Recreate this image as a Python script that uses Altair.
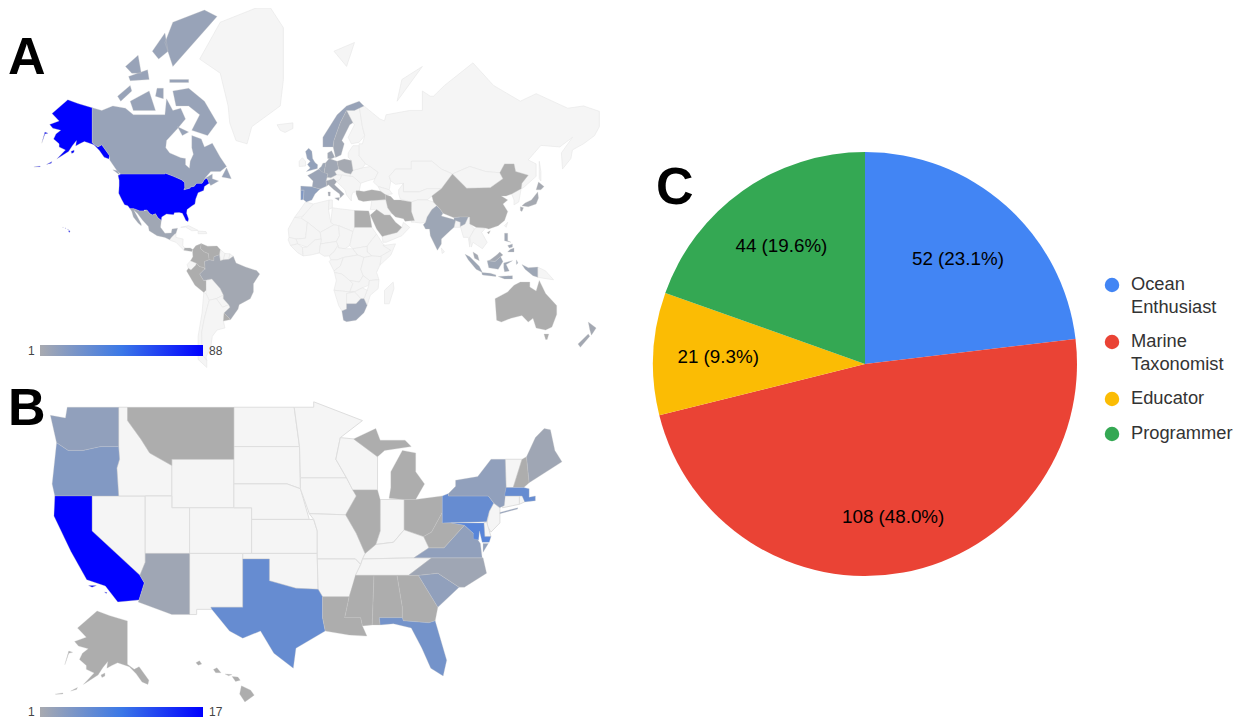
import math
import altair as alt

# ---------- pie ----------
ROLES = ["Ocean Enthusiast", "Marine Taxonomist", "Educator", "Programmer"]
ROLE_COUNTS = [52, 108, 21, 44]
ROLE_LABELS = ["52 (23.1%)", "108 (48.0%)", "21 (9.3%)", "44 (19.6%)"]
ROLE_LINES = ["Ocean\nEnthusiast", "Marine\nTaxonomist", "Educator", "Programmer"]
ROLE_COLORS = ["#4285f4", "#ea4335", "#fbbc04", "#34a853"]

# ---------- world (lon lat rings, ';' separates rings) ----------
WORLD_VALUES = {
    "USA": 88, "Alaska": 88, "Hawaii": 88, "Canada": 9, "Mexico": 6, "Panama": 2, "Colombia": 1, "Venezuela": 1,
    "Peru": 1, "Brazil": 5, "Uruguay": 1, "UK": 11, "Spain": 12, "Portugal": 18, "France": 8, "Benelux": 7,
    "Germany": 6, "Poland": 4, "Denmark": 6, "Norway": 9, "Sweden": 6, "Italy": 5, "Turkey": 1, "Iran": 1,
    "Saudi": 1, "Egypt": 1, "India": 7, "China": 1, "Japan": 4, "Philippines": 6, "Indonesia": 7, "Malaysia": 5,
    "SouthAfrica": 8, "Australia": 1, "NewZealand": 5,
}
WORLD_SHAPES = {
    "USA": "-124.7 48.4,-123 49,-95 49,-95 49.4,-89.5 48,-84.5 46.5,-82.5 45.3,-82.4 43,-83 42,-79 42.8,-79 43.3,-76.5 43.6,-75 45,-71.5 45,-70 46.7,-68.3 47.3,-67 45,-70 43.5,-70.5 41.7,-74 40.6,-75.5 37.5,-76 35,-78 33.9,-81 32,-81.3 30,-80 26.8,-80.4 25.2,-81.8 26,-82.8 28,-84 30,-86 30.4,-89 30.3,-89.5 29.2,-91 29.3,-94 29.6,-97 28,-97.3 26,-99.5 27.5,-101 29.7,-103 29,-104.5 29.7,-106.5 31.8,-108.2 31.8,-108.2 31.3,-111 31.3,-114.8 32.5,-117.1 32.5,-118.5 34,-120.6 34.6,-122.4 37.2,-124.3 40.3,-124 44,-124 46.3",
    "Alaska": "-141 69.6,-141 60.3,-137.5 59,-135 59.7,-130 56,-130.5 54.8,-133.5 55.5,-136.5 57.8,-140 59.7,-146 60.7,-149 60,-151.5 59.3,-151 61,-153.5 59.5,-156 57.5,-163.5 54.8,-158 58,-162 59,-162 60,-165.5 61.5,-164 63,-161 64,-166 64.6,-168 65.6,-162 66.5,-166.5 68.3,-156.5 71.3,-150 70.5;-154.5 57.5,-152.5 58,-152.5 57.2,-154 56.8;-170 52.8,-166.5 53.9,-167 53.3;-178 51.8,-174 52.2,-174 51.9;-173 60.2,-171 63.5,-169 63.2,-171 63",
    "Hawaii": "-155.9 20.2,-155 19.8,-155.6 18.95,-156 19.5;-156.7 20.9,-156 20.8,-156.4 20.6;-158.2 21.5,-157.7 21.4,-158 21.7;-159.8 22,-159.3 22,-159.5 22.2",
    "Canada": "-141 69.6,-135 69,-128 70,-120 69.5,-115 68,-108 68,-95 68,-94 71.5,-90 69,-85 69.5,-82 67,-87 64.5,-94 61,-94.5 58.7,-92 57,-85 55.3,-82 55,-82 52.7,-79.5 51.3,-79 54,-77 56.5,-78 58.7,-78 62.5,-72 61.5,-70 59,-65 60.2,-60 55.5,-56 52,-60 50,-66 50,-70 47,-65 49,-65 47,-61 46,-66 44,-67 45,-68.3 47.3,-70 46.7,-71.5 45,-75 45,-76.5 43.6,-79 43.3,-79 42.8,-83 42,-82.4 43,-82.5 45.3,-84.5 46.5,-89.5 48,-95 49.4,-95 49,-123 49,-125 50,-130 54.5,-130 56,-135 59.7,-137.5 59,-141 60.3;-62 66,-68 62.5,-78 64,-73 68,-80 70,-88 70,-90 73,-80 73.5,-70 71;-117 71,-105 73,-101 69,-115 69;-125 72,-117 74,-116 73,-123 71;-90 77,-62 82.5,-70 83,-90 82,-95 80;-92 75,-80 75,-80 74.5,-92 74.5;-118 75.5,-106 76.5,-105 75,-117 74.8;-59 47.7,-53 47,-56 51.5;-128 50.7,-123.5 48.5,-125 50.3;-87 65,-80 63.5,-84 62.5;-100 73.5,-96 73.5,-96 71.5,-101 72;-103 79,-95 81,-93 79,-99 78;-120 77,-112 78.5,-110 76,-116 76",
    "Greenland": "-73 78,-60 82,-30 83.5,-20 81.5,-20 75,-22 70,-40 65,-43 60,-50 61,-54 66,-55 70,-60 76",
    "Iceland": "-24 65.5,-14 66,-14 64.5,-19 63.4,-22 64",
    "Mexico": "-117.1 32.5,-114.8 32.5,-111 31.3,-108.2 31.3,-106.5 31.8,-104.5 29.7,-103 29,-101 29.7,-99.5 27.5,-97.3 26,-97.8 22,-95 18.5,-91 18.7,-90.5 21,-87 21.5,-88 18.5,-89 17.9,-91 16,-92 14.5,-95 16,-100 17,-105 20,-105.5 22.5,-109 26,-112.5 30,-114.7 31.7,-113 29,-110 24,-110 23,-112 24.5,-115 28,-116 31",
    "CentralAm": "-92 14.5,-91 16,-89 17.9,-88 18.5,-88 16,-83.5 15,-83.7 11,-82.5 9.5,-83 8,-86 11,-88 13,-91 14",
    "Panama": "-83 8,-82.5 9.5,-79 9.5,-77.3 8.5,-78 7.3,-80 7.5",
    "Cuba": "-85 22,-80 23,-74 20.2,-78 20,-82 22.2", "Hispaniola": "-74 19.8,-69 19.5,-68.5 18.3,-74 18.2",
    "Colombia": "-77.3 8.5,-75.5 10.8,-72 12.2,-72.5 9,-70 7,-67.5 6,-67 2,-70 1,-69.5 -4,-70 -3,-73 -2.3,-75 -0.2,-78.8 1.4,-77.3 4,-77.5 7",
    "Venezuela": "-72 12.2,-68 10.6,-62 10.7,-60 8.5,-60.5 5.2,-64 4,-64 1.5,-67 2,-67.5 6,-70 7,-72.5 9",
    "Guyana": "-60 8.5,-57 6,-58 2,-60 1.5,-60.5 5.2", "Suriname": "-57 6,-54 5.8,-54.5 2.3,-58 2", "FrGuiana": "-54 5.8,-51.7 4.2,-54.5 2.3",
    "Ecuador": "-78.8 1.4,-75 -0.2,-75.5 -1.5,-78.5 -4.5,-80.2 -3.4,-81 -1",
    "Peru": "-80.2 -3.4,-78.5 -4.5,-75.5 -1.5,-75 -0.2,-73 -2.3,-70 -3,-70 -4,-73 -7,-70.5 -11,-69 -11,-69 -17,-70.4 -18.3,-76 -14,-81.3 -5",
    "Brazil": "-70 -4,-69.5 -4,-70 1,-67 2,-64 1.5,-64 4,-60.5 5.2,-60 1.5,-58 2,-54.5 2.3,-51.7 4.2,-50 0,-44 -2.5,-37 -4.8,-35 -7,-39 -13,-39 -18,-41 -22,-48 -25.5,-48.7 -28,-53.4 -33.7,-57.6 -30.2,-53.8 -27,-54.6 -25.5,-58 -22,-58 -19.9,-60 -16,-65.3 -10,-70.5 -11,-73 -7",
    "Bolivia": "-69 -11,-65.3 -10,-60 -16,-58 -19.9,-62.5 -22,-67 -23,-69 -19,-69 -17",
    "Paraguay": "-58 -19.9,-58 -22,-54.6 -25.5,-58.5 -27,-62.5 -22",
    "Uruguay": "-57.6 -30.2,-53.4 -33.7,-58 -34.5",
    "Chile": "-70.4 -18.3,-69 -19,-67 -23,-70 -33,-71.7 -40,-71.5 -50,-68.5 -52.3,-68.5 -55,-74 -52,-74 -42,-71.5 -30",
    "Argentina": "-67 -23,-62.5 -22,-58.5 -27,-54.6 -25.5,-53.8 -27,-57.6 -30.2,-58 -34.5,-57 -38,-62 -39,-65 -42,-66 -47,-69 -51,-68.5 -52.3,-71.5 -50,-71.7 -40,-70 -33",
    "UK": "-5.5 50,1.5 51.2,1.7 52.7,0 53.5,-1.5 55,-2 57.6,-4 58.6,-6 57.5,-5 55,-3 54,-4.8 52.8,-3 51.4",
    "Ireland": "-10 52,-6 52.2,-6 54,-8 55.3,-10 54",
    "Spain": "-9 43.7,-1.8 43.4,3.2 42.4,0 40,-2 37,-5.5 36,-7.4 37.2,-7 41.8,-9 41.8",
    "Portugal": "-9 41.8,-7 41.8,-7.4 37.2,-9 37",
    "France": "-1.8 43.4,3.2 42.4,7.5 43.7,7 46,8.2 49,2.5 51,-1.5 49.5,-4.7 48.4,-1.2 46",
    "Benelux": "2.5 51.2,4 52,5 53.3,7 53.4,6 50.5,6 49.5,4 50",
    "Germany": "7 53.6,9 55,14 54,15 51,12.5 50,13.7 48.7,10 47.4,7.6 47.6,8.2 49,6 49.5,6 50.5",
    "Poland": "14 54,18.5 54.8,23 54.3,24 50.5,22.7 49,19 49.5,15 51",
    "Denmark": "8 55,8 57,10.5 57.7,12.5 55.5,10 54.8",
    "Norway": "5 59,5 62,14 68,20 70,28 71,31 70,25 69,20 69,16 66,12 61,11.5 59",
    "Sweden": "11.5 59,12 61,16 66,20 69,24 66,22 65.5,17 61,18.5 60,16.5 56.3,13 55.4",
    "Finland": "20 69,25 69,28 70,30 65,31.5 62.5,28 60.5,23 60,21 62,25 65.5,24 66",
    "Italy": "7 46,12 47,13.7 45.7,12.3 44.3,18.5 40,16 38,15.6 40,12 42,8.5 44.3,7.5 43.7;8.2 41,9.7 41,9.6 39,8.5 39;12.5 38,15.6 38.2,15 36.7",
    "Alps": "7 46,7.6 47.6,10 47.4,13.7 48.7,17 48.6,16 46.8,13.7 45.7,12 47",
    "Czechia": "12.5 50,15 51,19 49.5,22.7 49,22 48,17 48.6,13.7 48.7",
    "Balkans": "16 46.8,17 48.6,22 48,24 48,29 45,28 41.5,26 41,24 40.8,23 39,23 36.5,20 39.5,19 42,13.7 45.7",
    "Ukraine": "24 50.5,22.7 49,22 48,24 48,29 45,33 46,38 47,40 49.7,35 52,30 51.5",
    "Belarus": "23 54.3,24 50.5,30 51.5,32 53,28 56,28 59.4,24 59.4,21 57,21 55.5",
    "Russia": "28 60,30 60,31.5 62.5,30 65,28 70,31 70,41 67,44 66.5,45 68,60 69,68 69,68 73,73 72,75 72,82 74,100 77.5,113 74,130 71,140 72.5,160 69.5,170 70,180 68.8,180 65,177 62.5,170 60,163 58,162 55,156.7 51,156 57,163 62,155 59,143 59.5,135 54.5,140 53,140 48,132 43,130.5 42.5,131 45,135 48.5,127 50,126 53,120 53,117 49.5,108 50,98 52,87 49,80 51,74 54,61 54,61 51,51 51,47 48,48 46,47 42,40 43.5,37 45.5,38 47,40 49.7,35 52,32 53,28 56;142 54,143 50,143 46,142 47,142 51;52 71,68 77,55 75",
    "Svalbard": "12 79,25 80,20 77",
    "Caucasus": "40 43.5,47 42,49 40,44.5 39.7,41.5 41.3",
    "Kazakhstan": "47 48,51 51,61 51,61 54,74 54,80 51,87 49,80 42.5,71 42.5,66 41,56 41,56 45,51 44.5,48 46",
    "Mongolia": "87 49,98 52,108 50,117 49.5,119 47,111 43,96 42.7",
    "China": "74 39,80 42.5,87 49,96 42.7,111 43,119 47,117 49.5,120 53,126 53,127 50,135 48.5,131 45,130.5 42.5,124.5 40,121 39,118 39,122 37,119 35,122 31,120 26,116 23,110 21,108 21.6,102 22,98 24,98 28,92 28,88 27.5,81 30,79 32.5,75 36;109 19,111 20,110 18",
    "CentralAsia": "53 42,56 45,56 41,66 41,71 42.5,80 42.5,74 39,71 37,65 37,61 36,54 37.5,53 40",
    "Iran": "44.5 39.7,48 38.7,50 37,54 37,61 36,61 31,63 26,57 25.5,56 27,51 28,48.5 30,46 33,44.8 37.2",
    "AfPak": "61 36,65 37,71 37,75 36,77 34,74 32,71 28,70 25,67 24.5,63 25,61 25,61 31",
    "Turkey": "26 40,26 41.5,28 41.5,31 41.2,36 42,41.5 41.3,44.5 39.7,44.8 37.2,36 36.7,30.6 36.3,27.5 37",
    "Iraq": "36 36.7,44.8 37.2,46 33,48.5 30,47.5 29,44 29,39 32,35 32",
    "Saudi": "35 29,39 32,44 29,47.5 29,48.5 28,51 25,55 22,52 19,44 17,42.5 16.5,39 21",
    "Oman": "42.5 16.5,44 17,52 19,55 22,56 25,60 22,55 17,45 13,43 13",
    "Egypt": "25 31.5,34 31.3,35 28,36 22,25 22",
    "Morocco": "-6 36,-1 35,-1.5 32,-8.7 28,-13 27.7,-9.8 31.5",
    "Mauritania": "-13 27.7,-8.7 27.3,-4.8 25,-6 15.5,-12 15,-16.5 16,-17 21",
    "Algeria": "-1 35,9 37,8.5 32,10 25,12 23.5,3.3 19,-4.8 25,-8.7 27.3",
    "Tunisia": "9 37,11 37,11 33,8.5 32",
    "Libya": "11 33,15 32.5,20 32,25 31.5,25 20,24 19.5,15 23,12 23.5,10 25",
    "Mali": "-4.8 25,3.3 19,4 15,0 14.5,-5 10,-11 12,-12 15,-6 15.5",
    "Niger": "3.3 19,12 23.5,15 23,15.5 17,13.5 13.5,3.5 12,4 15",
    "Chad": "15 23,24 19.5,22 11,19 9,15 9.5,13.5 13.5,15.5 17",
    "Sudan": "25 22,36 22,39 18,36 14.5,33 10.5,24 9,22 11,24 19.5",
    "Senegal": "-16.5 16,-12 15,-11 12,-15.5 11,-17 14.5",
    "Guinea": "-15.5 11,-11 12,-8 10,-7.5 4.5,-11 6.5",
    "Ghana": "-8 10,-5 10,0 14.5,4 15,3.5 12,2.7 6.3,-3 5,-7.5 4.5",
    "Nigeria": "2.7 6.3,3.5 12,13.5 13.5,14.5 11,12 7,9 4.5,6 4.3",
    "Cameroon": "9 4.5,12 7,14.5 11,15 9.5,19 9,24 9,27 5,18 3.5,14 2,10 2",
    "Ethiopia": "36 14.5,39 18,43 12,48 8,42 4,36 4.5,33 7,33 10.5",
    "Somalia": "43 11,51 12,48 5,41 -1.5,41 4,48 8",
    "SouthSudan": "24 9,33 10.5,33 7,36 4.5,31 3.5,27 5",
    "Gabon": "9 1,10 2,14 2,18 3.5,16 -2,12 -5",
    "DRC": "18 3.5,27 5,31 3.5,29 -4,30.5 -8,28 -12,22 -11,17 -7,12.3 -6,12 -5,16 -2",
    "Kenya": "31 3.5,36 4.5,42 4,41 -1.5,39 -6,40.5 -10.5,34.5 -11,30.5 -8,29 -4",
    "Angola": "12.3 -6,17 -7,22 -11,24 -13,22 -18,12 -17,13.5 -11",
    "Zambia": "22 -11,28 -12,30.5 -8,34.5 -11,34 -14,30 -15.5,25 -18,22 -18,24 -13",
    "Mozambique": "34.5 -11,40.5 -10.5,40 -16,35 -20,33 -26,31 -22,33 -17,34 -14",
    "Zimbabwe": "25 -18,30 -15.5,33 -17,31 -22,29 -22",
    "Namibia": "12 -17,22 -18,25 -18,20 -19,20 -28,17 -29,15 -26",
    "Botswana": "20 -19,25 -18,29 -22,26 -25,20 -25",
    "SouthAfrica": "17 -29,20 -28,20 -25,26 -25,29 -22,31 -22,33 -26,31 -30,26 -34,20 -34.8,18 -34",
    "Madagascar": "49.5 -12,50 -16,47 -25,44 -25,44 -17",
    "India": "68.5 23.5,70 25,71 28,74 32,77 34,79 32.5,81 30,80 28.5,88 26.5,88 27.5,92 28,97 28,95 24,92 22.5,92 25,89 26,88 22,85 19.5,80 15,80 12,77.5 8,73 17,72.5 21,70 21",
    "Bangladesh": "88 22,89 26,92 25,92 22",
    "Myanmar": "92 22.5,95 24,97 28,98 28,98 24,101 21,98 16,98 10,97 16,94 16",
    "Indochina": "101 21,102 22,108 21.6,105.5 19,109 13,106 9,103 11,100 13,99 10,98 16",
    "Malaysia": "100 7,103 5,104 1.5,101 3;109.5 1.5,111 2,115 5,117 7,119 5,117.5 4,114 1",
    "SriLanka": "80 9.5,82 7,80.5 6",
    "Korea": "124.5 40,130.5 42.5,129 36,126 34.5,126 37",
    "Japan": "131 34,135 33.5,140 35,141.5 38,141 41,140 40,137 37,133 35.5;140 42,141.5 45.5,145 43.5,143 42;130 33.5,132 33,131 31,130 31.5",
    "Taiwan": "120 23,122 25,121 22",
    "Philippines": "120 18.5,122 18.5,122 14,124 13,120 14;122 7,126 7,126 9.5,123.5 8.5;122 11,125 12,125 10,123 9.5",
    "Indonesia": "95 5.5,98 4,104 -2,106 -6,102 -4,97 2;105.5 -6,111 -6.5,114.5 -7.5,114.5 -8.5,106 -7.5;109 1.5,114 1,117.5 4,119 1,116 -4,110 -3;119.5 0,125 1.5,121 -1,123 -5,120 -5.5,119.5 -3;116 -8.5,125 -8,125 -10,120 -10;131 -1,135 -3,141 -2.6,141 -9,138 -8,133 -4;127.5 2,128.5 0,127.5 -1",
    "PNG": "141 -2.6,146 -5,151 -10.5,147 -10,141 -9",
    "Australia": "114 -22,122 -18,126 -14,130 -12,136 -12,136 -15,140 -17.5,142 -11,146 -19,153 -26,153 -31,150 -37.5,146 -39,140 -38,138 -33,135 -35,131 -31.5,124 -33,118 -35,115 -34;145 -41,148 -41,147 -43.5,146 -43.5",
    "NewZealand": "173 -35,178 -38,175 -41.5,174 -39;173 -41,174 -42,168 -47,166.5 -45.5",
}

# ---------- US states ----------
US_VALUES = {
    "WA": 3, "OR": 4, "CA": 17, "MT": 1, "AZ": 2, "TX": 6, "LA": 1, "IL": 1, "MI": 1, "OH": 1, "MS": 1, "AL": 1,
    "GA": 1, "FL": 5, "SC": 3, "NC": 2, "VA": 3, "WV": 1, "PA": 6, "NY": 3, "NH": 1, "ME": 2, "MA": 6, "MD": 7,
    "AK": 1, "HI": 1,
}
US_SHAPES = {
    "WA": "-124.7 48.4,-123 48.2,-122.8 49,-117 49,-117 46,-119 46,-121 45.7,-122.7 45.7,-124 46.3",
    "OR": "-124 46.3,-122.7 45.7,-121 45.7,-119 46,-117 46,-116.9 45,-117.2 44.3,-117 42,-124.2 42,-124.5 43",
    "CA": "-124.2 42,-120 42,-120 39,-114.6 35,-114.1 34.3,-114.7 32.7,-117.1 32.5,-118.5 34,-120.6 34.6,-122.4 37.2,-124.3 40.3;-120.4 34.05,-119.5 34.05,-120 33.9;-118.6 33.45,-118.3 33.4,-118.4 33.3",
    "NV": "-120 42,-114 42,-114 36.2,-114.6 35,-120 39",
    "ID": "-117 49,-116 49,-116 48,-114.5 46.6,-113.5 45.5,-111 44.5,-111 42,-117 42,-117.2 44.3,-116.9 45,-117 46",
    "MT": "-116 49,-104 49,-104 45,-111 45,-111 44.5,-113.5 45.5,-114.5 46.6,-116 48",
    "WY": "-111 45,-104 45,-104 41,-111 41",
    "UT": "-114 42,-111 42,-111 41,-109 41,-109 37,-114 37",
    "CO": "-109 41,-102 41,-102 37,-109 37",
    "AZ": "-114 37,-109 37,-109 31.3,-111 31.3,-114.8 32.5,-114.7 32.7,-114.1 34.3,-114.6 35,-114 36.2",
    "NM": "-109 37,-103 37,-103 32,-106.6 32,-106.5 31.8,-108.2 31.8,-108.2 31.3,-109 31.3",
    "ND": "-104 49,-97.2 49,-96.6 46,-104 46",
    "SD": "-104 46,-96.6 46,-96.5 42.6,-98 43,-104 43",
    "NE": "-104 43,-98 43,-96.5 42.6,-95.5 40,-102 40,-102 41,-104 41",
    "KS": "-102 40,-95 40,-94.6 39,-94.6 37,-102 37",
    "OK": "-103 37,-94.6 37,-94.5 33.7,-97 33.8,-100 34.5,-100 36.5,-103 36.5",
    "TX": "-103 36.5,-100 36.5,-100 34.5,-97 33.8,-94.5 33.7,-94 33,-94 31,-93.7 29.7,-97 28,-97.3 26,-99.5 27.5,-101 29.7,-103 29,-104.5 29.7,-106.5 31.8,-106.6 32,-103 32",
    "MN": "-97.2 49,-95 49,-95 49.4,-89.5 48,-92 46.7,-92.5 45,-91.3 43.5,-96.5 43.5,-96.6 46",
    "IA": "-96.5 43.5,-91.3 43.5,-90.2 42,-91.4 40.4,-95.5 40.5,-96.5 42.6",
    "MO": "-95.5 40.5,-91.4 40.4,-90.2 38.8,-89.2 37,-89.7 36,-90.3 36.5,-94.6 36.5,-94.6 39,-95 40",
    "AR": "-94.6 36.5,-90.3 36.5,-89.7 36,-91 33,-94 33,-94.5 33.7",
    "LA": "-94 33,-91 33,-91.5 31,-89.7 31,-89.5 30.2,-89 29.2,-91 29.3,-93.7 29.7,-94 31",
    "WI": "-92 46.7,-90.5 46.6,-87.8 45.2,-87.8 42.5,-90.6 42.5,-91.3 43.5,-92.5 45",
    "IL": "-90.6 42.5,-87.8 42.5,-87.5 41.7,-87.5 39,-88 37.8,-89.2 37,-90.2 38.8,-91.4 40.4,-90.2 42",
    "MI": "-86.5 41.8,-84.8 41.7,-83.5 41.7,-82.5 43,-83.5 44,-83.5 45.5,-85 45.7,-86.3 44,-86.3 42.7;-90.5 46.6,-88 47.4,-87.5 46.5,-84.7 46.5,-84 46,-87 45.7,-87.8 45.2",
    "IN": "-87.5 41.7,-84.8 41.7,-84.8 39.1,-86 38,-88 37.8,-87.5 39",
    "OH": "-84.8 41.7,-83.5 41.7,-80.5 42,-80.5 40.6,-81.7 38.9,-82.6 38.5,-84.8 39.1",
    "KY": "-89.2 37,-88 37.8,-86 38,-84.8 39.1,-82.6 38.5,-82 37.5,-83.7 36.6,-89.5 36.5",
    "TN": "-89.7 36,-89.5 36.5,-83.7 36.6,-81.7 36.6,-84.3 35,-90.3 35",
    "MS": "-91 33,-90.3 35,-88.2 35,-88.4 30.3,-89.5 30.2,-89.7 31,-91.5 31",
    "AL": "-88.2 35,-85.6 35,-85 32,-85 31,-87.6 31,-87.5 30.3,-88.4 30.3",
    "GA": "-85.6 35,-83.2 35,-81 32,-81.3 30.7,-82 30.5,-84.9 30.7,-85 31,-85 32",
    "FL": "-87.6 31,-85 31,-84.9 30.7,-82 30.5,-81.3 30.7,-80 26.8,-80.4 25.2,-81.8 26,-82.8 28,-84 30,-86 30.4,-87.5 30.3",
    "SC": "-83.2 35,-81 35.2,-78.6 33.9,-81 32",
    "NC": "-84.3 35,-81.7 36.6,-75.9 36.6,-75.5 35.2,-78 33.9,-78.6 33.9,-81 35.2,-83.2 35",
    "VA": "-83.7 36.6,-82 37.5,-80.3 37.5,-78 39.5,-77 38.8,-76.2 37.9,-76 36.6,-81.7 36.6;-75.9 37.9,-75.3 37.9,-75.9 37.1",
    "WV": "-82.6 38.5,-81.7 38.9,-80.5 40.6,-80.5 39.7,-79.5 39.7,-78 39.5,-80.3 37.5,-82 37.5",
    "PA": "-80.5 42,-79.8 42.2,-79.8 42,-75.3 42,-74.7 41.4,-75.2 40.7,-75.5 39.8,-80.5 39.7",
    "NY": "-79.8 42.2,-79 42.8,-79 43.3,-76.5 43.6,-75 45,-73.4 45,-73.3 42.7,-73.5 41.2,-74 41,-74.7 41.4,-75.3 42,-79.8 42;-74 40.6,-72 41,-72 40.9,-74 40.5",
    "VT": "-73.4 45,-71.5 45,-72.5 42.7,-73.3 42.7",
    "NH": "-71.5 45,-71 45.2,-70.7 43.1,-71.3 42.7,-72.5 42.7",
    "ME": "-71 45.2,-70 46.7,-69 47.4,-68.3 47.3,-67.8 45.7,-67 44.8,-70.7 43.1",
    "MA": "-73.3 42.7,-71.3 42.7,-70.7 42.6,-70.7 41.9,-70 42,-70 41.6,-71.2 41.5,-71.5 42,-73.5 42",
    "CT": "-73.5 42,-71.8 42,-71.8 41.3,-73.7 41",
    "RI": "-71.8 42,-71.2 42,-71.2 41.5,-71.8 41.3",
    "NJ": "-75.2 40.7,-74.7 41.4,-74 41,-74 39.7,-75 38.9,-75.5 39.5",
    "DE": "-75.8 39.7,-75.5 39.8,-75 38.5,-75.7 38.5",
    "MD": "-79.5 39.7,-75.8 39.7,-75.7 38.5,-75 38.5,-75.2 38,-76 38,-76.3 39,-76.4 38.2,-77 38.3,-77 38.8,-78 39.5",
}
AK_RINGS = WORLD_SHAPES["Alaska"]
HI_RINGS = "-155.9 20.25,-155.1 19.9,-154.8 19.5,-155.6 18.95,-156.05 19.6;-156.7 21,-156.2 20.95,-156 20.7,-156.4 20.6;-157.3 21.2,-156.7 21.15,-157 21.05;-158.3 21.55,-158 21.7,-157.65 21.3,-158.1 21.3;-159.8 22.1,-159.5 22.25,-159.3 22,-159.6 21.9"

GREY, MID, TOP = "#adadad", "#3b78e7", "#0000ff"
LAND = "#f5f5f5"
FONT = "Liberation Sans"
W, H = 1226, 713

# The page holds one Mercator frame; the state map and its insets are re-expressed in it.
WORLD_R, WORLD_X, WORLD_Y = 90.5, 315, 263
PROJ = dict(type="mercator", scale=WORLD_R, translate=[WORLD_X - 8, WORLD_Y - 8], precision=0,
            clipExtent=[[0, 0], [W, H]])


def merc(lat):
    return math.log(math.tan(math.pi / 4 + math.radians(lat) / 2))


def place(text, r, x0, y0):
    rings = []
    for rg in text.split(";"):
        pts = []
        for p in rg.split(","):
            lon, lat = [float(v) for v in p.split()]
            px = x0 + math.radians(lon) * r
            py = y0 - merc(lat) * r
            new_lon = math.degrees((px - WORLD_X) / WORLD_R)
            new_lat = math.degrees(2 * math.atan(math.exp((WORLD_Y - py) / WORLD_R)) - math.pi / 2)
            pts.append(f"{new_lon:.5f} {new_lat:.5f}")
        rings.append(",".join(pts))
    return ";".join(rings)


US_ALL = {k: place(v, 508, 1156, 907) for k, v in US_SHAPES.items()}
US_ALL["AK"] = place(AK_RINGS, 112, 403, 813)
US_ALL["HI"] = place(HI_RINGS, 668, 2059, 927)


def ring(text):
    pts = [[float(v) for v in p.split()] for p in text.split(",")]
    pts.append(pts[0])
    area = sum(a[0] * b[1] - b[0] * a[1] for a, b in zip(pts, pts[1:]))
    return pts[::-1] if area > 0 else pts  # d3 wants clockwise outer rings


def features(shapes, values, with_value):
    out = []
    for name, text in shapes.items():
        if (name in values) != with_value:
            continue
        out.append({
            "type": "Feature",
            "properties": {"name": name, "value": values.get(name)},
            "geometry": {"type": "MultiPolygon", "coordinates": [[ring(r)] for r in text.split(";")]},
        })
    return out


def map_layers(shapes, values, top, edge, width):
    return [
        alt.Chart(alt.Data(values=features(shapes, values, False)))
        .mark_geoshape(fill=LAND, stroke=edge, strokeWidth=width).project(**PROJ),
        alt.Chart(alt.Data(values=features(shapes, values, True)))
        .mark_geoshape(stroke="#c9c9c9", strokeWidth=0.3)
        .encode(color=alt.Color("properties.value:Q", legend=None,
                                scale=alt.Scale(domain=[1, (1 + top) / 2, top], range=[GREY, MID, TOP], interpolate="rgb")))
        .project(**PROJ),
    ]


def colorbar(y0, y1, hi):
    grad = alt.Gradient(gradient="linear", x1=0, x2=1, y1=0, y2=0, stops=[
        alt.GradientStop(color="#a8aab0", offset=0), alt.GradientStop(color=MID, offset=0.5),
        alt.GradientStop(color=TOP, offset=1)])
    rect = alt.Chart(alt.Data(values=[{"a": 1}])).mark_rect(color=grad).encode(
        x=alt.value(32), x2=alt.value(195), y=alt.value(y0), y2=alt.value(y1))
    text = [alt.Chart(alt.Data(values=[{"t": t}])).mark_text(align="left", fontSize=12, font=FONT, color="#444").encode(
        x=alt.value(x), y=alt.value((y0 + y1) / 2), text="t:N") for t, x in (("1", 20), (str(hi), 201))]
    return [rect] + text


def letter(t, x, y):
    return alt.Chart(alt.Data(values=[{"t": t}])).mark_text(
        align="left", baseline="alphabetic", fontSize=52, fontWeight="bold", font=FONT, color="#000"
    ).encode(x=alt.value(x), y=alt.value(y), text="t:N")


pie_rows = [{"role": r, "n": n, "label": l, "lines": t, "order": i}
            for i, (r, n, l, t) in enumerate(zip(ROLES, ROLE_COUNTS, ROLE_LABELS, ROLE_LINES))]
pie_data = alt.Data(values=pie_rows)
color = alt.Color("role:N", legend=None, scale=alt.Scale(domain=ROLES, range=ROLE_COLORS))
PIE_X, PIE_Y = 865 - 8, 364 - 8

arcs = alt.Chart(pie_data).mark_arc(radius=212).encode(
    theta=alt.Theta("n:Q", stack=True), order=alt.Order("order:Q"), color=color,
    x=alt.value(PIE_X), y=alt.value(PIE_Y))

pie_layers = [arcs]
for role, r_label, row_y in zip(ROLES, (140, 156, 147, 145), (277, 334, 391, 426)):
    one = (lambda c, who=role: c.transform_filter(alt.datum.role == who))
    pie_layers.append(one(
        alt.Chart(pie_data).transform_window(cum="sum(n)", sort=[alt.SortField("order")])
        .transform_calculate(mid="datum.cum - datum.n / 2")
    ).mark_text(fontSize=18.8, font=FONT, color="#000", radius=r_label).encode(
        theta=alt.Theta("mid:Q", stack=None, scale=alt.Scale(domain=[0, sum(ROLE_COUNTS)], range=[0, 2 * math.pi])),
        text="label:N", x=alt.value(PIE_X), y=alt.value(PIE_Y)))
    pie_layers.append(one(alt.Chart(pie_data)).mark_point(filled=True, shape="circle", size=210, opacity=1).encode(
        x=alt.value(1112 - 8), y=alt.value(row_y), color=color))
    pie_layers.append(one(alt.Chart(pie_data)).mark_text(
        align="left", baseline="top", dy=-9, fontSize=18.3, lineHeight=23, lineBreak="\n", font=FONT, color="#333"
    ).encode(x=alt.value(1131 - 8), y=alt.value(row_y), text="lines:N"))

layers = []
layers += map_layers(WORLD_SHAPES, WORLD_VALUES, 88, "#e6e6e6", 0.6)
layers += colorbar(337, 348, 88)
layers += map_layers(US_ALL, US_VALUES, 17, "#dedede", 1)
layers += colorbar(699, 709, 17)
layers += pie_layers
layers += [letter("A", 0, 66), letter("B", 0, 417), letter("C", 648, 196)]

chart = alt.layer(*layers).resolve_scale(color="independent", theta="independent").properties(
    width=W, height=H, padding=0, autosize=alt.AutoSizeParams(type="none")
).configure_view(stroke=None)

chart.save("out.html", embed_options={"renderer": "svg", "actions": False})
